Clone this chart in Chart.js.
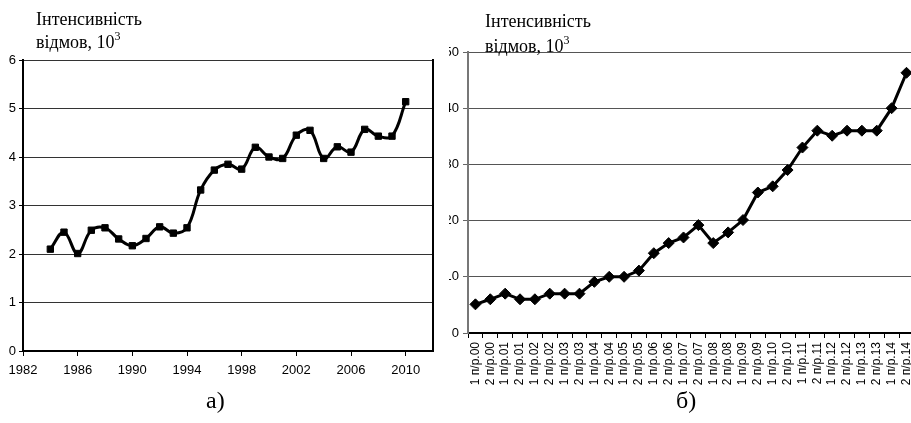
<!DOCTYPE html>
<html>
<head>
<meta charset="utf-8">
<script src="https://cdn.jsdelivr.net/npm/chart.js@4/dist/chart.umd.min.js"></script>
<style>
  html, body { margin: 0; padding: 0; background: #fff; }
  body { width: 911px; height: 423px; position: relative; overflow: hidden; }
  .ttl { position: absolute; font-family: "Liberation Serif", "Times New Roman", serif; font-size: 18px; line-height: 23px; color: #000; white-space: nowrap; }
  .ttl sup { font-size: 12px; line-height: 0; position: relative; top: -1px; }
  .cap { position: absolute; font-family: "Liberation Serif", "Times New Roman", serif; font-size: 24px; line-height: 28px; color: #000; }
  #wrapA { position: absolute; left: 0; top: 0; width: 440px; height: 423px; }
  #wrapB { position: absolute; left: 449px; top: 0; width: 462px; height: 423px; overflow: hidden; }
  #innerB { position: absolute; left: -19px; top: 0; width: 495px; height: 423px; }
</style>
</head>
<body>
<div id="wrapA"><canvas id="chartA"></canvas></div>
<div id="wrapB"><div id="innerB"><canvas id="chartB"></canvas></div></div>

<div class="ttl" style="left:36px;top:8px;">Інтенсивність<br>відмов, 10<sup>3</sup></div>
<div class="ttl" style="left:485px;top:9px;line-height:25px;">Інтенсивність<br>відмов, 10<sup>3</sup></div>
<div class="cap" style="left:206px;top:386px;">а)</div>
<div class="cap" style="left:676px;top:386px;">б)</div>

<script>
// ─── Data ─────────────────────────────────────────────────────────────────────

const YEARS = [1984, 1985, 1986, 1987, 1988, 1989, 1990, 1991, 1992, 1993, 1994, 1995, 1996, 1997,
               1998, 1999, 2000, 2001, 2002, 2003, 2004, 2005, 2006, 2007, 2008, 2009, 2010];
const FAILS_A = [2.10, 2.45, 2.01, 2.49, 2.54, 2.31, 2.17, 2.32, 2.56, 2.43, 2.54, 3.32, 3.73, 3.85,
                 3.75, 4.20, 4.00, 3.97, 4.45, 4.55, 3.97, 4.21, 4.10, 4.57, 4.43, 4.43, 5.14];
const X_TICKS_A = [1982, 1986, 1990, 1994, 1998, 2002, 2006, 2010];

const HALF_YEARS = [
  "1 п/р.00", "2 п/р.00", "1 п/р.01", "2 п/р.01", "1 п/р.02", "2 п/р.02", "1 п/р.03", "2 п/р.03",
  "1 п/р.04", "2 п/р.04", "1 п/р.05", "2 п/р.05", "1 п/р.06", "2 п/р.06", "1 п/р.07", "2 п/р.07",
  "1 п/р.08", "2 п/р.08", "1 п/р.09", "2 п/р.09", "1 п/р.10", "2 п/р.10", "1 п/р.11", "2 п/р.11",
  "1 п/р.12", "2 п/р.12", "1 п/р.13", "2 п/р.13", "1 п/р.14", "2 п/р.14",
];
const FAILS_B = [5.1, 6.0, 7.0, 6.0, 6.0, 7.0, 7.0, 7.0, 9.1, 10.0, 10.0, 11.1, 14.2, 16.0, 17.0,
                 19.2, 16.0, 17.9, 20.1, 25.0, 26.1, 29.0, 33.0, 36.0, 35.1, 36.0, 36.0, 36.0, 40.0, 46.3];

// ─── Style ────────────────────────────────────────────────────────────────────

const TICK_FONT = { family: "'Liberation Sans', Arial, sans-serif", size: 13 };
const INK = "#000";

Chart.defaults.animation = false;
Chart.defaults.devicePixelRatio = 1;

// ─── Chart а) ─────────────────────────────────────────────────────────────────

new Chart(document.getElementById("chartA"), {
  type: "line",
  data: {
    datasets: [{
      data: YEARS.map((y, i) => ({ x: y, y: FAILS_A[i] })),
      borderColor: INK,
      backgroundColor: INK,
      borderWidth: 3,
      tension: 0.4,
      pointStyle: "rect",
      pointRadius: 4.5,
      pointBorderWidth: 1,
    }],
  },
  options: {
    responsive: true,
    maintainAspectRatio: false,
    layout: { padding: { top: 60, right: 7, left: 0, bottom: 0 } },
    plugins: { legend: { display: false }, tooltip: { enabled: false } },
    scales: {
      x: {
        type: "linear", min: 1982, max: 2012,
        afterBuildTicks: (s) => { s.ticks = X_TICKS_A.map((v) => ({ value: v })); },
        afterFit: (s) => { s.height = 72; },
        grid: { drawOnChartArea: false, tickLength: 5, color: INK },
        border: { color: INK, width: 2 },
        ticks: { color: INK, font: TICK_FONT, padding: 7, maxRotation: 0, autoSkip: false, callback: (v) => String(v) },
      },
      y: {
        min: 0, max: 6,
        afterFit: (s) => { s.width = 23; },
        grid: { color: "#333", lineWidth: 1, tickLength: 4, tickColor: INK },
        border: { color: INK, width: 2 },
        ticks: { stepSize: 1, color: INK, font: TICK_FONT, padding: 3 },
      },
      yr: {
        position: "right", min: 0, max: 6,
        afterFit: (s) => { s.width = 0; },
        grid: { display: false },
        border: { color: INK, width: 2 },
        ticks: { display: false },
      },
    },
  },
});

// ─── Chart б) ─────────────────────────────────────────────────────────────────

new Chart(document.getElementById("chartB"), {
  type: "line",
  data: {
    labels: HALF_YEARS,
    datasets: [{
      data: FAILS_B,
      borderColor: INK,
      backgroundColor: INK,
      borderWidth: 3,
      tension: 0,
      pointStyle: "rectRot",
      pointRadius: 5.5,
      pointBorderWidth: 1,
    }],
  },
  options: {
    responsive: true,
    maintainAspectRatio: false,
    layout: { padding: { top: 52, right: 0, left: 0, bottom: 0 } },
    plugins: { legend: { display: false }, tooltip: { enabled: false } },
    scales: {
      x: {
        offset: true,
        afterFit: (s) => { s.height = 90; },
        grid: { drawOnChartArea: false, offset: true, tickLength: 5, color: INK },
        border: { color: INK, width: 2 },
        ticks: { color: INK, font: { ...TICK_FONT, size: 12 }, padding: 4, minRotation: 90, maxRotation: 90, autoSkip: false },
      },
      y: {
        min: 0, max: 50,
        afterFit: (s) => { s.width = 38; },
        grid: { color: "#555", lineWidth: 1, tickLength: 5, tickColor: "#666" },
        border: { color: "#777", width: 2 },
        ticks: { stepSize: 10, color: INK, font: TICK_FONT, padding: 4 },
      },
    },
  },
});
</script>
</body>
</html>
